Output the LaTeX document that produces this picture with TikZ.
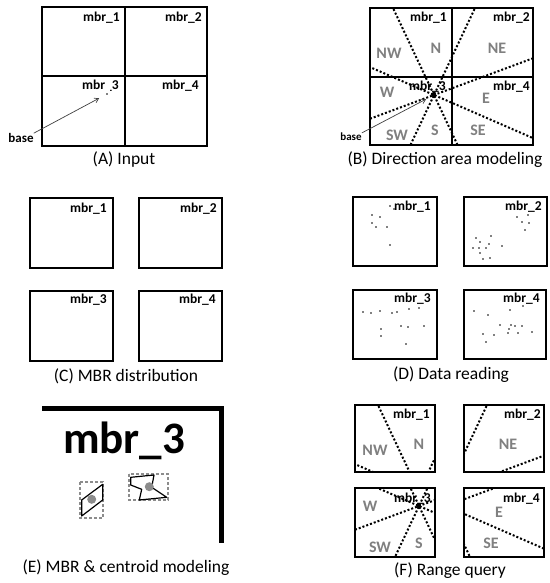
\documentclass[tikz,border=0pt]{standalone}
\usepackage{fontspec}
\setmainfont{Carlito}
\usepackage{tikz}
\usetikzlibrary{arrows.meta,positioning,calc}
\usepackage{xcolor}
\definecolor{dirgray}{RGB}{128,128,128}
\definecolor{cengray}{RGB}{140,140,140}

\tikzset{
  mbrbox/.style={draw,line width=1.6pt},
  mbrlabel/.style={anchor=east,inner sep=0pt,font=\fontsize{13.5}{14}\selectfont\bfseries},
  dirlabel/.style={inner sep=0pt,text=dirgray,font=\fontsize{16}{17}\selectfont\bfseries},
  dirline/.style={line width=2pt,dash pattern=on 2pt off 2pt},
  captionlabel/.style={inner sep=0pt,font=\fontsize{17.5}{19}\selectfont},
  baselabel/.style={inner sep=0pt,font=\fontsize{13}{14}\selectfont\bfseries},
  basearrow/.style={->,line width=0.7pt,black!75,shorten >=9pt},
  mbrdash/.style={draw=cengray,line width=1.2pt,dash pattern=on 3pt off 2pt},
  polyline/.style={draw,line width=1.2pt,line join=round},
  centroid/.style={fill=cengray},
}

\newcommand{\dirlines}[1]{%
  \coordinate (#1c) at (64,87);
  \draw[dirline] (15,-17) -- (113,191);
  \draw[dirline] (113,-17) -- (15,191);
  \draw[dirline] (-60,33) -- (188,141);
  \draw[dirline] (-60,133) -- (188,41);
  \fill (#1c) circle (2.2pt);
}

\begin{document}
\begin{tikzpicture}[x=1pt,y=-1pt,>={Straight Barb[length=4pt,width=5pt]}]
\useasboundingbox[fill=white] (0,0) rectangle (549,583);

% (A)
\draw[mbrbox] (42,7) rectangle (207,146) (125,7) -- (125,146) (42,76) -- (207,76);
\node[mbrlabel] (am1) at (120,18) {mbr\_1};
\node[mbrlabel] (am2) at (202,18) {mbr\_2};
\node[mbrlabel] (am3) at (119,86) {mbr\_3};
\node[mbrlabel] (am4) at (199,86) {mbr\_4};
\coordinate (apt) at (107,94);
\fill[white] (104,89) rectangle (110,92);
\fill (apt) circle (0.9pt);
\node[baselabel] (basea) at (21,138) {base};
\draw[basearrow] (basea.north east) -- (apt);
\node[captionlabel] (capa) at (124,160) {(A) Input};

% (B)
\begin{scope}[shift={(370,8)}]
  \node[mbrlabel] (bm1) at (77,10) {mbr\_1};
  \node[mbrlabel] (bm2) at (160,10) {mbr\_2};
  \node[mbrlabel] (bm3) at (76,79) {mbr\_3};
  \node[mbrlabel] (bm4) at (160,79) {mbr\_4};
  \node[dirlabel] (bnw) at (19,45) {NW};
  \node[dirlabel] (bn) at (66,40) {N};
  \node[dirlabel] (bne) at (127,40) {NE};
  \node[dirlabel] (bw) at (17,84) {W};
  \node[dirlabel] (be) at (116,90) {E};
  \node[dirlabel] (bsw) at (27,127) {SW};
  \node[dirlabel] (bs) at (65,122) {S};
  \node[dirlabel] (bse) at (108,122) {SE};
  \begin{scope}
    \clip (0,0) rectangle (163,137);
    \dirlines{b}
  \end{scope}
  \draw[mbrbox] (0,0) rectangle (163,137) (82,0) -- (82,137) (0,69) -- (163,69);
\end{scope}
\node[baselabel,font=\fontsize{11}{12}\selectfont\bfseries] (baseb) at (351,137) {base};
\draw[basearrow] (baseb.north east) -- (bc);
\node[captionlabel] (capb) at (445,160) {(B) Direction area modeling};

% (C)
\draw[mbrbox] (30,198) rectangle (113,268);
\draw[mbrbox] (139,198) rectangle (222,268);
\draw[mbrbox] (30,291) rectangle (113,361);
\draw[mbrbox] (139,291) rectangle (222,361);
\node[mbrlabel] (cm1) at (107,209) {mbr\_1};
\node[mbrlabel] (cm2) at (217,209) {mbr\_2};
\node[mbrlabel] (cm3) at (107,300) {mbr\_3};
\node[mbrlabel] (cm4) at (216,300) {mbr\_4};
\node[captionlabel] (capc) at (126,376) {(C) MBR distribution};

% (D)
\draw[mbrbox] (353,197) rectangle (437,266);
\draw[mbrbox] (464,197) rectangle (547,266);
\draw[mbrbox] (353,290) rectangle (437,359);
\draw[mbrbox] (464,290) rectangle (546,359);
\node[mbrlabel] (dm1) at (431,207) {mbr\_1};
\node[mbrlabel] (dm2) at (542,207) {mbr\_2};
\node[mbrlabel] (dm3) at (431,299) {mbr\_3};
\node[mbrlabel] (dm4) at (540,299) {mbr\_4};
\foreach \px/\py in {390/206,394/209,372/215,380/217,372/223,376/227,387/227,390/245,
  517/217,528/215,522/222,529/223,525/230,491/236,476/238,480/242,489/244,502/246,
  473/248,479/248,486/248,480/253,483/259,490/258,
  363/312,371/313,380/311,392/313,397/312,409/309,419/308,381/329,381/336,401/326,
  408/327,424/326,406/344,
  474/311,488/315,510/310,523/306,500/325,511/325,515/326,522/326,509/329,508/333,
  518/333,532/332,483/334,494/335,486/342}
  \fill (\px,\py) circle (0.9pt);
\node[captionlabel] (capd) at (451,375) {(D) Data reading};

% (E)
\draw[line width=5pt] (42,408) -- (221,408) -- (221,543);
\node[inner sep=0pt,font=\fontsize{45}{50}\selectfont\bfseries,anchor=base] (em3) at (124,453) {mbr\_3};
\draw[mbrdash] (80,482) rectangle (103,518);
\draw[polyline] (81.7,500) -- (102.7,484.3) -- (102.7,500) -- (81.7,516) -- cycle;
\fill[centroid] (91.7,499.3) circle (4.5pt);
\draw[mbrdash] (129,474) rectangle (168,500);
\draw[polyline] (130.7,477.3) -- (154,475) -- (151.7,487.3) -- (166.7,497.3) -- (139.3,500)
  -- (141.7,489.3) -- (130.7,485) -- cycle;
\fill[centroid] (149.3,486.7) circle (4.5pt);
\node[captionlabel] (cape) at (126,568) {(E) MBR \& centroid modeling};

% (F)
\node[mbrlabel] (fm1) at (430,415) {mbr\_1};
\node[mbrlabel] (fm2) at (541,415) {mbr\_2};
\node[mbrlabel] (fm3) at (431,499) {mbr\_3};
\node[mbrlabel] (fm4) at (540,499) {mbr\_4};
\node[dirlabel] (fnw) at (375,450) {NW};
\node[dirlabel] (fn) at (419,444) {N};
\node[dirlabel] (fne) at (508,444) {NE};
\node[dirlabel] (fw) at (370,506) {W};
\node[dirlabel] (fe) at (499,512) {E};
\node[dirlabel] (fsw) at (380,547) {SW};
\node[dirlabel] (fs) at (419,543) {S};
\node[dirlabel] (fse) at (491,543) {SE};
\begin{scope}
  \clip (355,405) rectangle (435,472);
  \begin{scope}[shift={(355,405)}] \dirlines{fa} \end{scope}
\end{scope}
\begin{scope}
  \clip (464,405) rectangle (544,472);
  \begin{scope}[shift={(382,405)}] \dirlines{fb} \end{scope}
\end{scope}
\begin{scope}
  \clip (355,488) rectangle (435,557);
  \begin{scope}[shift={(355,419)}] \dirlines{fc} \end{scope}
\end{scope}
\begin{scope}
  \clip (464,488) rectangle (544,557);
  \begin{scope}[shift={(382,419)}] \dirlines{fd} \end{scope}
\end{scope}
\draw[mbrbox] (355,405) rectangle (435,472);
\draw[mbrbox] (464,405) rectangle (544,472);
\draw[mbrbox] (355,488) rectangle (435,557);
\draw[mbrbox] (464,488) rectangle (544,557);
\node[captionlabel] (capf) at (450,571) {(F) Range query};
\end{tikzpicture}
\end{document}
